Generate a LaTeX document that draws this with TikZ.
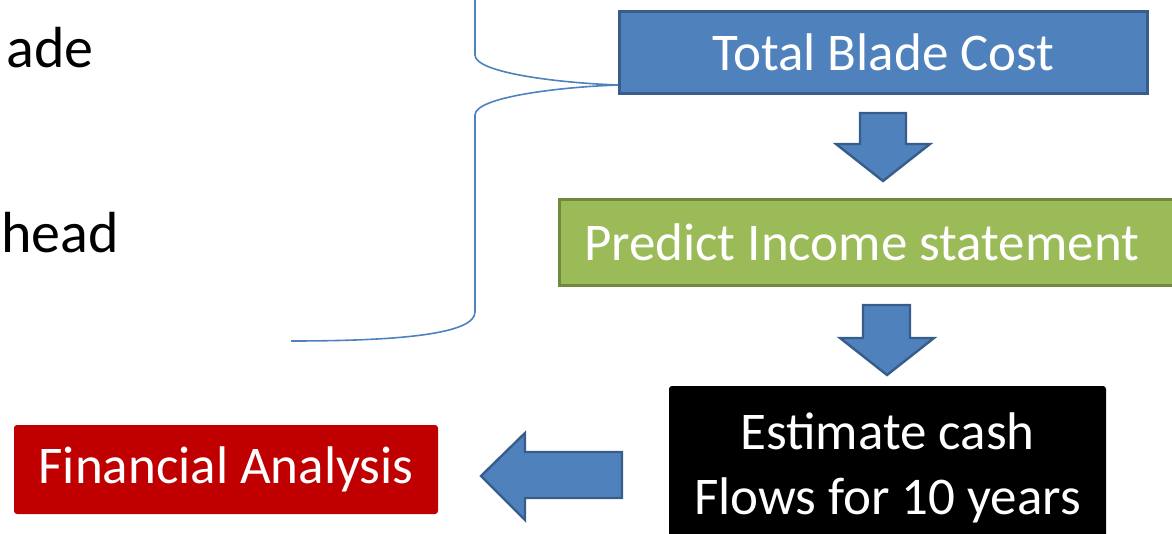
\documentclass[tikz,border=0pt]{standalone}
\usepackage{fontspec}
\setmainfont{Carlito}
\definecolor{costblue}{HTML}{4F81BD}
\definecolor{costedge}{HTML}{385D8A}
\definecolor{incomegreen}{HTML}{9BBB59}
\definecolor{incomeedge}{HTML}{71893F}
\definecolor{analysisred}{HTML}{C00000}

\begin{document}
\begin{tikzpicture}[
    x=0.5pt, y=-0.5pt,
    every node/.style={font=\fontsize{26.5}{32.5}\selectfont},
    box/.style={inner sep=0pt, align=center, text=white},
    costbox/.style={box, draw=costedge, line width=1.5pt, fill=costblue, minimum width=264pt, minimum height=41pt},
    incomebox/.style={box, draw=incomeedge, line width=1.5pt, fill=incomegreen, inner xsep=12.5pt, text width=285pt, align=flush left, minimum height=43pt},
    cashbox/.style={box, fill=black, rounded corners=1.5pt, minimum width=218.5pt, minimum height=81.5pt},
    finbox/.style={box, fill=analysisred, rounded corners=1.5pt, minimum width=212pt, minimum height=44.5pt},
    item/.style={anchor=base east, inner sep=0pt, font=\fontsize{29}{34}\selectfont},
    blockar/.style={draw=costedge, fill=costblue, line width=1.2pt, line join=miter},
    brace/.style={draw=costblue, line width=0.8pt}
]
\useasboundingbox (0,0) rectangle (1172,534);
% ----- boxes -----
\node[costbox] (cost) at (883.5,52.5) {Total Blade Cost};
\node[incomebox] (income) at (869,242.5) {Predict Income statement};
\node[cashbox] (cash) at (887.5,467.5) {Estimate cash\\Flows for 10 years};
\node[finbox] (fin) at (226,469.5) {Financial Analysis};
% cut-off item texts on the left
\node[item] (itemA) at (94,68) {ade};
\node[item] (itemB) at (119,253) {head};
% brace gathering the items into the cost box
\coordinate (bracetop) at (475,0);
\coordinate (bracetip) at (618,85);
\coordinate (braceend) at (291,341);
\draw[brace] (bracetop) -- (475,55) .. controls (475,73) and (560,83) .. (bracetip)
    .. controls (560,87) and (475,97) .. (475,115) -- (475,312)
    .. controls (475,334) and (400,341) .. (braceend);
% ----- block arrows -----
\draw[blockar] (860,113) -- (906,113) -- (906,144) -- (930,144) -- (883,181) -- (836,144) -- (860,144) -- cycle;
\draw[blockar] (863,305) -- (910,305) -- (910,338) -- (934,338) -- (887,375) -- (840,338) -- (863,338) -- cycle;
\draw[blockar] (622,452) -- (622,498) -- (525,498) -- (525,520) -- (481,476) -- (525,433) -- (525,452) -- cycle;
\end{tikzpicture}
\end{document}
